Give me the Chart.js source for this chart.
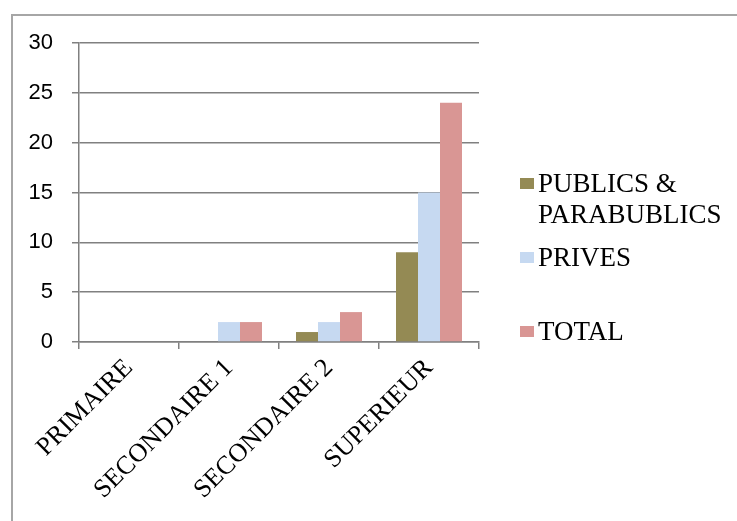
<!DOCTYPE html>
<html>
<head>
<meta charset="utf-8">
<title>Etablissements par niveau</title>
<script src="https://cdn.jsdelivr.net/npm/chart.js@4/dist/chart.umd.min.js"></script>
<style>
  html, body { margin: 0; padding: 0; background: #fff; overflow: hidden; }
  #wrap { position: relative; width: 737px; height: 521px; }
  #frame {
    position: absolute; left: 11px; top: 14px;
    width: 800px; height: 600px;
    border: 2px solid #a6a6a6;
  }
  #chart { position: absolute; left: 0; top: 0; }
</style>
</head>
<body>
<div id="wrap">
  <div id="frame"></div>
  <canvas id="chart" width="737" height="521"></canvas>
</div>
<script>
const categories = ['PRIMAIRE', 'SECONDAIRE 1', 'SECONDAIRE 2', 'SUPERIEUR'];
const publics = [0, 0, 1, 9];
const prives = [0, 2, 2, 15];
const total = [0, 2, 3, 24];
const yTicks = [0, 5, 10, 15, 20, 25, 30];

const axisColor = '#808080';
const serif = '"Liberation Serif", "Times New Roman", serif';

// legend drawn on the right, one entry per dataset, wrapped text
const sideLegend = {
  id: 'sideLegend',
  afterDraw(chart, args, opts) {
    const ctx = chart.ctx;
    ctx.save();
    ctx.font = opts.font;
    ctx.textBaseline = 'alphabetic';
    ctx.textAlign = 'left';
    chart.data.datasets.forEach((ds, i) => {
      const words = ds.label.split(' ');
      const lines = [];
      let line = '';
      words.forEach((w) => {
        const test = line ? line + ' ' + w : w;
        if (line && ctx.measureText(test).width > opts.maxWidth) {
          lines.push(line);
          line = w;
        } else {
          line = test;
        }
      });
      lines.push(line);
      const base = opts.top + i * opts.step;
      ctx.fillStyle = ds.backgroundColor;
      ctx.fillRect(opts.boxX, base - 14, opts.boxW, opts.boxH);
      ctx.fillStyle = '#000';
      lines.forEach((l, j) => {
        ctx.fillText(l, opts.textX, base + j * opts.lineHeight);
      });
    });
    ctx.restore();
  }
};

const ctx = document.getElementById('chart').getContext('2d');
new Chart(ctx, {
  type: 'bar',
  data: {
    labels: categories,
    datasets: [
      { label: 'PUBLICS & PARABUBLICS', data: publics, backgroundColor: '#948A54' },
      { label: 'PRIVES', data: prives, backgroundColor: '#C6D9F1' },
      { label: 'TOTAL', data: total, backgroundColor: '#D99694' },
    ],
  },
  options: {
    responsive: false,
    animation: false,
    events: [],
    layout: { padding: { left: 0, top: 43, right: 258, bottom: 0 } },
    datasets: {
      bar: { categoryPercentage: 0.66, barPercentage: 1.0, borderWidth: 0 },
    },
    plugins: {
      legend: { display: false },
      tooltip: { enabled: false },
      sideLegend: {
        font: '27px ' + serif,
        maxWidth: 195,
        boxX: 520,
        boxW: 14,
        boxH: 11,
        textX: 538,
        top: 192,
        step: 74,
        lineHeight: 31,
      },
    },
    scales: {
      x: {
        grid: {
          offset: true,
          drawOnChartArea: false,
          drawTicks: true,
          tickLength: 7,
          color: axisColor,
          lineWidth: 1.5,
        },
        border: { color: axisColor, width: 1.5 },
        ticks: {
          color: '#000',
          font: { family: serif, size: 26 },
          minRotation: 45,
          maxRotation: 45,
          autoSkip: false,
          padding: 4,
        },
        afterFit: (scale) => { scale.height = 521 - 342; },
      },
      y: {
        min: 0,
        max: 30,
        afterBuildTicks: (scale) => { scale.ticks = yTicks.map((v) => ({ value: v })); },
        grid: {
          color: axisColor,
          lineWidth: 1.5,
          drawTicks: true,
          tickLength: 7,
        },
        border: { color: axisColor, width: 1.5 },
        ticks: {
          color: '#000',
          font: { family: '"Liberation Sans", Arial, sans-serif', size: 22 },
          padding: 19,
        },
        afterFit: (scale) => { scale.width = 79; },
      },
    },
  },
  plugins: [sideLegend],
});
</script>
</body>
</html>
